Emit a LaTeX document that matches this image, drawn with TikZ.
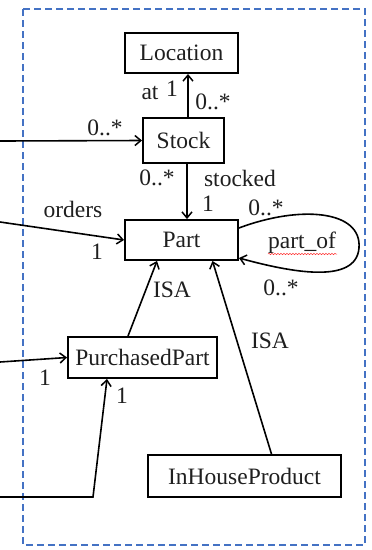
\documentclass[tikz,border=0pt]{standalone}
\usepackage{fontspec}
\setmainfont{Liberation Serif}
\usetikzlibrary{arrows.meta,decorations.pathmorphing}
\definecolor{frameblue}{RGB}{68,114,196}
\begin{document}
\begin{tikzpicture}[x=1pt,y=-1pt,
  every node/.style={font=\fontsize{23.5}{27}\selectfont, text=black!88},
  cls/.style={draw=black, line width=1.9pt, minimum height=40pt, inner sep=0pt},
  arr/.style={line width=1.6pt, -{Straight Barb[length=6pt,width=10pt,line width=1.5pt]}},
  lbl/.style={inner sep=0pt}
]
\useasboundingbox (0,0) rectangle (372,550);
\draw[draw=frameblue, line width=1.3pt, dash pattern=on 7pt off 4pt] (23,9) rectangle (365,545);

\node[cls, minimum width=113pt, minimum height=40pt] (loc) at (181.5,53) {Location};
\node[cls, minimum width=81pt, minimum height=45pt] (stock) at (183.5,140.5) {Stock};
\node[cls, minimum width=113pt, minimum height=40pt] (part) at (181.5,240) {Part};
\node[cls, minimum width=149pt, minimum height=41pt] (pp) at (142.5,357.5) {PurchasedPart};
\node[cls, minimum width=193pt, minimum height=42pt] (ih) at (244.5,476) {InHouseProduct};

\coordinate (inS) at (0,141);
\coordinate (inP) at (0,222);
\coordinate (inPP) at (0,362);
\coordinate (inB) at (0,497);
\coordinate (cB) at (93,497);

\draw[arr] ([xshift=4.5pt]stock.north) -- ([xshift=6.5pt]loc.south);
\draw[arr] ([xshift=3.5pt]stock.south) -- ([xshift=5.5pt]part.north);
\draw[arr] (inS) -- (stock.west);
\draw[arr] (inP) -- (part.west);
\draw[arr] ([xshift=-14.5pt]pp.north) -- ([xshift=-24.5pt]part.south);
\draw[arr] ([xshift=27pt]ih.north) -- ([xshift=31pt]part.south);
\draw[arr] (inPP) -- (pp.west);
\draw[arr] (inB) -- (cB) -- ([xshift=-35.5pt]pp.south);
\draw[arr] ([yshift=12pt]part.east) .. controls (300,205) and (362,210) .. (359,248)
  .. controls (356,285) and (290,272) .. ([yshift=-18pt]part.east);

\node[lbl] (lat) at (150,93) {at};
\node[lbl] (l1a) at (172,89) {1};
\node[lbl] (l0a) at (213,102) {0..*};
\node[lbl] (l0b) at (105,128) {0..*};
\node[lbl] (l0c) at (157,178) {0..*};
\node[lbl] (lst) at (240,178) {stocked};
\node[lbl] (l1b) at (208,204) {1};
\node[lbl] (lor) at (73,209) {orders};
\node[lbl] (l1c) at (97,252) {1};
\node[lbl] (l0d) at (266,208) {0..*};
\node[lbl] (lpo) at (302,243) {part\_of};
\node[lbl] (l0e) at (281,288) {0..*};
\node[lbl] (lisa1) at (172,290) {ISA};
\node[lbl] (lisa2) at (270,341) {ISA};
\node[lbl] (l1d) at (45,378) {1};
\node[lbl] (l1e) at (122,396) {1};
\draw[red!80, line width=0.5pt, decorate, decoration={snake, amplitude=0.7pt, segment length=3pt}] (268,254) -- (337,254);
\end{tikzpicture}
\end{document}
